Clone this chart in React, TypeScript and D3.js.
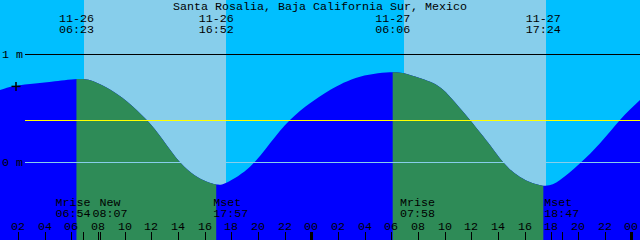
import React from "react";
import * as d3 from "d3";

// Time in hours from 11-26 00:00
const startHour = 0.65;
const spanHours = 48;
const title = "Santa Rosalia, Baja California Sur, Mexico";

const tideHours = [0.65, 1.775, 3.275, 4.775, 6.65, 7.775, 8.9, 10.175, 11.675, 12.875, 14.15, 15.275, 16.175, 16.925, 17.75, 19.4, 20.9, 22.4, 23.9, 25.4, 27.65, 30.125, 31.4, 33.125, 34.4, 35.9, 37.4, 38.375, 39.65, 41.375, 42.65, 44.15, 45.65, 47.15, 48.65];
const tideHeights = [0.667, 0.704, 0.726, 0.747, 0.769, 0.741, 0.671, 0.56, 0.386, 0.204, -0.003, -0.125, -0.183, -0.209, -0.185, -0.044, 0.173, 0.389, 0.544, 0.667, 0.79, 0.831, 0.806, 0.731, 0.605, 0.389, 0.157, 0.0, -0.139, -0.219, -0.167, -0.012, 0.173, 0.389, 0.574];

const sunriseHours = [6.383, 30.1];
const sunsetHours = [16.867, 41.4];
const sunDates = ["11-26", "11-27"];
const sunriseLabels = ["06:23", "06:06"];
const sunsetLabels = ["16:52", "17:24"];

const skyStartHours = [6.95, 30.95];
const skyEndHours = [17.6, 41.6];

const moonEventHours = [6.9, 8.117, 17.95, 31.967, 42.783];
const moonEventNames = ["Mrise", " New", "Mset", "Mrise", "Mset"];
const moonEventTimes = ["06:54", "08:07", "17:57", "07:58", "18:47"];

const levelLines = [1, 0, 0.39];
const levelLabels = ["1 m", "0 m", ""];
const markHour = 1.85;
const markHeight = 0.7;

const W = 640, H = 240;
const FONT = "'Liberation Mono', 'DejaVu Sans Mono', monospace";
const FS = 11.67;
const CHAR_W = 7;

export default function App() {
  React.useEffect(() => { document.body.style.margin = "0"; }, []);
  const x = d3.scaleLinear().domain([startHour, startHour + spanHours]).range([0, W]);
  const y = d3.scaleLinear().domain([0, 1]).range([162, 54]);

  const pts = tideHours.map((h, i) => [h, tideHeights[i]] as [number, number]);
  const area = d3.area<[number, number]>()
    .x(d => x(d[0])).y0(H).y1(d => y(d[1])).curve(d3.curveNatural);
  const areaPath = area(pts) || "";

  const hourTicks = d3.range(2, 49, 2);

  // Event labels with simple collision avoidance
  const labelW = 5 * CHAR_W;
  const centers = moonEventHours.map(h => x(h));
  for (let i = 1; i < centers.length; i++) {
    const minD = labelW + 2;
    if (centers[i] - centers[i - 1] < minD) {
      const mid = (centers[i] + centers[i - 1]) / 2;
      centers[i - 1] = mid - minD / 2;
      centers[i] = mid + minD / 2;
    }
  }

  return (
    <svg width={W} height={H} style={{ position: "absolute", left: 0, top: 0, display: "block" }}
      fontFamily={FONT} fontSize={FS}>
      <defs>
        <clipPath id="dayclip">
          {sunriseHours.map((s, i) => (
            <rect key={i} x={x(s)} y={0} width={x(sunsetHours[i]) - x(s)} height={H} />
          ))}
        </clipPath>
      </defs>
      <rect x={0} y={0} width={W} height={H} fill="#00BFFF" />
      {skyStartHours.map((s, i) => (
        <rect key={i} x={x(s)} y={0} width={x(skyEndHours[i]) - x(s)} height={H} fill="#87CEEB" />
      ))}
      <path d={areaPath} fill="#0000FF" />
      <path d={areaPath} fill="#2E8B57" clipPath="url(#dayclip)" />

      {levelLines.map((lv, i) => (
        <line key={i} x1={25} x2={W} y1={Math.round(y(lv)) + 0.5} y2={Math.round(y(lv)) + 0.5}
          stroke={i === 0 ? "#000" : i === 1 ? "#87CEEB" : "#FFFF00"} strokeWidth={1} />
      ))}
      {levelLabels.map((l, i) => l ? (
        <text key={i} x={2} y={y(levelLines[i]) + 4} fill="#000">{l}</text>
      ) : null)}

      <g stroke="#000" strokeWidth={1.5}>
        <line x1={x(markHour) - 4.5} x2={x(markHour) + 4.5} y1={y(markHeight)} y2={y(markHeight)} />
        <line x1={x(markHour)} x2={x(markHour)} y1={y(markHeight) - 4.5} y2={y(markHeight) + 4.5} />
      </g>

      <text x={W / 2} y={9.5} textAnchor="middle" fill="#000">{title}</text>
      {sunriseHours.map((s, i) => (
        <g key={"sr" + i} textAnchor="middle" fill="#000">
          <text x={x(s)} y={21.5}>{sunDates[i]}</text>
          <text x={x(s)} y={33}>{sunriseLabels[i]}</text>
          <text x={x(sunsetHours[i])} y={21.5}>{sunDates[i]}</text>
          <text x={x(sunsetHours[i])} y={33}>{sunsetLabels[i]}</text>
        </g>
      ))}

      {moonEventHours.map((h, i) => (
        <g key={"me" + i} fill="#000">
          <text x={centers[i] - labelW / 2} y={205.5} xmlSpace="preserve" style={{ whiteSpace: "pre" }}>{moonEventNames[i]}</text>
          <text x={centers[i] - labelW / 2} y={216.5}>{moonEventTimes[i]}</text>
          <line x1={Math.round(x(h)) + 0.5} x2={Math.round(x(h)) + 0.5} y1={232} y2={H} stroke="#000" />
        </g>
      ))}

      {hourTicks.map(h => {
        const midnight = h % 24 === 0;
        const xx = Math.round(x(h));
        return (
          <g key={h}>
            <text x={xx} y={229.5} textAnchor="middle" fill="#000">{String(h % 24).padStart(2, "0")}</text>
            <line x1={xx + 0.5} x2={xx + 0.5} y1={232} y2={H} stroke="#000" strokeWidth={midnight ? 3 : 1} />
          </g>
        );
      })}
    </svg>
  );
}
